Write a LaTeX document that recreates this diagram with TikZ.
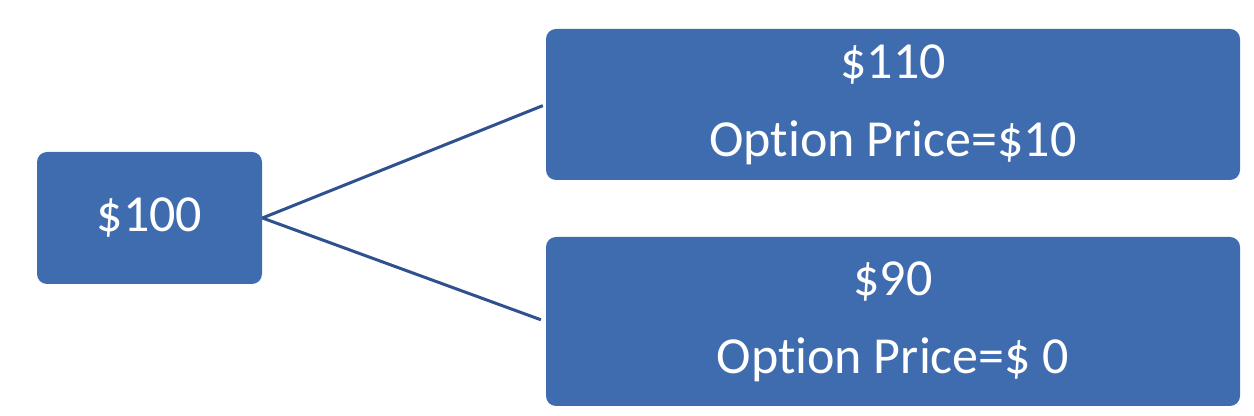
\documentclass[tikz,border=0pt]{standalone}
\usepackage{fontspec}
\setmainfont[Ligatures={NoCommon,NoRequired,NoContextual}]{Carlito}
\usepackage{tikz}
\usetikzlibrary{positioning}
\definecolor{boxblue}{HTML}{3F6CAF}
\definecolor{linkblue}{HTML}{2F528F}
\tikzset{
  pricebox/.style={draw=none,fill=boxblue,rounded corners=5pt,align=center,
    text=white,inner sep=0pt,font=\fontsize{26}{39}\selectfont},
  branch/.style={draw=linkblue,line width=1.5pt}
}
\begin{document}
\begin{tikzpicture}[x=0.5pt,y=-0.5pt]
  \useasboundingbox (0,0) rectangle (1254,416);
  \node[pricebox,minimum width=112.5pt,minimum height=66pt] (root) at (149.5,218) {\$100};
  \node[pricebox,minimum width=347pt,minimum height=75.5pt] (up) at (893,104.5) {\$110\\Option Price=\$10};
  \node[pricebox,minimum width=347pt,minimum height=84.5pt] (down) at (893,321.5) {\$90\\Option Price=\$ 0};
  \draw[branch,shorten >=1.5pt] (root.east)--(up.west);
  \draw[branch,shorten >=2.5pt] (root.east)--(down.west);
\end{tikzpicture}
\end{document}
